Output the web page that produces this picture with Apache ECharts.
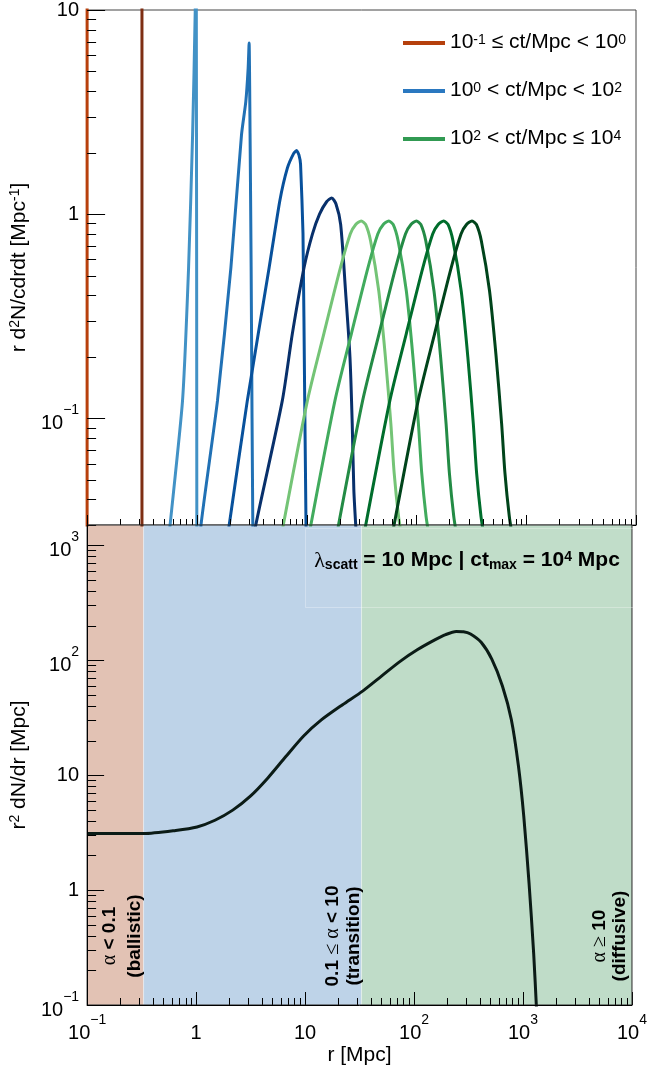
<!DOCTYPE html>
<html>
<head>
<meta charset="utf-8">
<script src="https://cdn.jsdelivr.net/npm/echarts@6/dist/echarts.min.js"></script>
<style>
html, body { margin: 0; padding: 0; background: #fff; }
#main { width: 650px; height: 1078px; }
</style>
</head>
<body>
<div id="main"></div>
<script>
var FONT = 'Liberation Sans, Arial, Helvetica, sans-serif';
var SERIF = 'Liberation Serif, DejaVu Serif, serif';

// ---- top panel: r d2N/cdrdt, one curve per ct [Mpc] ----
var ctValues = [0.1, 0.316, 1, 3.16, 10, 31.6, 100, 316, 1000, 3162, 10000];
var ctColors = ['#b8400c', '#7e2e13', '#4292c6', '#2171b5', '#08519c', '#08306b',
                '#74c476', '#41ab5d', '#238b45', '#006d2c', '#00441b'];
var ctGroup = [0, 0, 1, 1, 1, 1, 2, 2, 2, 2, 2];
var ctSmooth = [0, 0, 0.2, 0.2, 0.15, 0.25, 0.25, 0.25, 0.25, 0.25, 0.25];

var curve0 = [[0.1, 0.01], [0.1, 200]];
var curve1 = [[0.316, 0.01], [0.316, 200]];
var curve2 = [[0.55, 0.025], [0.57, 0.03], [0.74, 0.122], [0.84, 0.546], [0.914, 2.45],
              [0.966, 10], [0.985, 40], [1.0, 0.01]];
var curve3 = [[1.05, 0.02], [1.09, 0.03], [1.54, 0.122], [2.04, 0.546], [2.55, 2.45],
              [2.79, 3.56], [2.93, 5.18], [2.99, 6.9], [3.05, 2.5], [3.12, 0.55],
              [3.18, 0.1], [3.25, 0.02]];
var curve4 = [[1.9, 0.025], [1.97, 0.03], [2.88, 0.122], [4.55, 0.546], [5.69, 1.16],
              [6.67, 1.68], [7.6, 1.98], [8.1, 2.05], [8.5, 1.95], [8.8, 1.75],
              [9.26, 0.8], [9.6, 0.122], [9.9, 0.025]];
var curve5 = [[3.3, 0.025], [3.44, 0.03], [6.0, 0.122], [7.41, 0.26], [9.46, 0.546],
              [11.3, 0.80], [13.1, 1.0], [15.2, 1.15], [16.9, 1.2], [18.5, 1.12],
              [20.4, 0.89], [22.6, 0.42], [24.8, 0.199], [26.0, 0.094], [26.9, 0.0446],
              [28.2, 0.028]];
var curve6 = [[5.98, 0.028], [10.16, 0.122], [14.35, 0.26], [20.28, 0.546], [24.95, 0.80],
              [27.99, 0.89], [31.41, 0.925], [34.43, 0.89], [38.19, 0.74], [45.39, 0.42],
              [52.12, 0.20], [58.48, 0.094], [62.66, 0.054], [68.71, 0.033], [73.62, 0.026]];
var curve7 = [[10.66, 0.028], [18.1, 0.122], [25.57, 0.26], [36.14, 0.546], [44.46, 0.80],
              [49.88, 0.89], [55.97, 0.925], [61.35, 0.89], [68.06, 0.74], [80.9, 0.42],
              [92.9, 0.20], [104.2, 0.094], [111.7, 0.054], [122.4, 0.033], [131.2, 0.026]];
var curve8 = [[19.04, 0.028], [32.35, 0.122], [45.69, 0.26], [64.57, 0.546], [79.44, 0.80],
              [89.12, 0.89], [100.0, 0.925], [109.6, 0.89], [121.6, 0.74], [144.5, 0.42],
              [166, 0.20], [186.2, 0.094], [199.5, 0.054], [218.8, 0.033], [234.4, 0.026]];
var curve9 = [[33.7, 0.028], [57.26, 0.122], [80.88, 0.26], [114.3, 0.546], [140.6, 0.80],
              [157.8, 0.89], [177.0, 0.925], [194.0, 0.89], [215.2, 0.74], [255.8, 0.42],
              [293.8, 0.20], [329.6, 0.094], [353.2, 0.054], [387.3, 0.033], [414.9, 0.026]];
var curve10 = [[61.06, 0.028], [103.7, 0.122], [146.5, 0.26], [207.1, 0.546], [254.7, 0.80],
               [285.8, 0.89], [320.7, 0.925], [351.5, 0.89], [389.9, 0.74], [463.4, 0.42],
               [532.1, 0.20], [597.1, 0.094], [639.8, 0.054], [701.5, 0.033], [751.7, 0.026]];
var curves = [curve0, curve1, curve2, curve3, curve4, curve5, curve6, curve7, curve8, curve9, curve10];

var legendLabels = ['10^-1 <= ct/Mpc < 10^0', '10^0 < ct/Mpc < 10^2', '10^2 < ct/Mpc <= 10^4'];
var legendText = ['{n|10}{p|-1}{n| ≤ ct/Mpc < 10}{p|0}',
                  '{n|10}{p|0}{n| < ct/Mpc < 10}{p|2}',
                  '{n|10}{p|2}{n| < ct/Mpc ≤ 10}{p|4}'];
var legendColors = ['#b5400d', '#2a78c0', '#319a52'];

// ---- bottom panel: r^2 dN/dr for lambda_scatt = 10 Mpc, ct_max = 1e4 Mpc ----
var r2dNdr = [[0.1, 3.1], [0.2, 3.1], [0.33, 3.1], [0.65, 3.3], [1.02, 3.54], [1.49, 4.05],
              [2.17, 4.96], [3.15, 6.56], [4.58, 9.5], [6.66, 14.5], [9.7, 21.9], [14.1, 30.2],
              [22.1, 41.0], [34.0, 54.1], [50.6, 73], [73.5, 96.7], [107, 123], [155, 150],
              [195, 167], [244, 178], [284, 177], [330, 169], [413, 143], [517, 102],
              [647, 59.7], [781, 30.5], [908, 12.0], [1016, 4.4], [1136, 1.15], [1253, 0.28],
              [1340, 0.08]];
var regionEdges = [0.1, 0.33, 33, 10000];
var regionColors = ['#e2c2b4', '#bed3e8', '#bfdcc8'];

// axis tick labels by decade exponent
var xTickExp = [-1, 0, 1, 2, 3, 4];
var xTickText = ['{b|10}{s|−1}', '{b|1}', '{b|10}', '{b|10}{s|2}', '{b|10}{s|3}', '{b|10}{s|4}'];
var yTickExp = [-1, 0, 1, 2, 3];
var yTickText = ['{b|10}{s|−1}', '{b|1}', '{b|10}', '{b|10}{s|2}', '{b|10}{s|3}'];

function decadeLabel(exps, texts) {
    return function (v) {
        var l = Math.log10(v), e = Math.round(l);
        if (Math.abs(l - e) > 1e-6) return '';
        var i = exps.indexOf(e);
        return i < 0 ? '' : texts[i];
    };
}

// ROOT-like log ticks (1..9 x 10^e)
function logTicks(lo, hi) {
    var out = [];
    for (var e = -2; e <= 4; e++) {
        for (var m = 1; m <= 9; m++) {
            var v = m * Math.pow(10, e);
            if (v >= lo * 0.9999 && v <= hi * 1.0001) out.push([v, m === 1 ? 1 : 0]);
        }
    }
    return out;
}

function xTickRenderer(majLen, minLen) {
    return function (params, api) {
        var cs = params.coordSys;
        var x = Math.round(api.coord([api.value(0), api.value(1)])[0]) + 0.5;
        var yb = cs.y + cs.height;
        var len = api.value(2) ? majLen : minLen;
        return { type: 'line', shape: { x1: x, y1: yb, x2: x, y2: yb - len },
                 style: { stroke: '#000', lineWidth: 1 } };
    };
}
function yTickRenderer(majLen, minLen) {
    return function (params, api) {
        var cs = params.coordSys;
        var y = Math.round(api.coord([api.value(0), api.value(1)])[1]) + 0.5;
        var len = api.value(2) ? majLen : minLen;
        return { type: 'line', shape: { x1: cs.x, y1: y, x2: cs.x + len, y2: y },
                 style: { stroke: '#000', lineWidth: 1 } };
    };
}

var chart = echarts.init(document.getElementById('main'));

var series = [];
curves.forEach(function (c, i) {
    series.push({
        name: legendLabels[ctGroup[i]],
        type: 'line', xAxisIndex: 0, yAxisIndex: 0,
        data: c, showSymbol: false, symbol: 'none',
        smooth: ctSmooth[i] || false,
        lineStyle: { color: ctColors[i], width: 3 },
        itemStyle: { color: ctColors[i] },
        z: 3
    });
});

series.push({
    name: 'r2dNdr', type: 'line', xAxisIndex: 1, yAxisIndex: 1,
    data: r2dNdr, showSymbol: false, symbol: 'none', smooth: 0.25,
    lineStyle: { color: '#0b1b16', width: 3 }, z: 3,
    markArea: {
        silent: true,
        label: { show: false },
        data: regionColors.map(function (col, i) {
            return [{ xAxis: regionEdges[i], itemStyle: { color: col, borderColor: 'rgba(255,255,255,0.3)', borderWidth: 1 } },
                    { xAxis: regionEdges[i + 1] }];
        })
    }
});

series.push({ type: 'custom', xAxisIndex: 0, yAxisIndex: 0, z: 6, silent: true,
    renderItem: xTickRenderer(10, 6),
    data: logTicks(0.1, 10000).map(function (t) { return [t[0], 1, t[1]]; }) });
series.push({ type: 'custom', xAxisIndex: 0, yAxisIndex: 0, z: 6, silent: true,
    renderItem: yTickRenderer(18, 9),
    data: logTicks(0.03, 10).map(function (t) { return [1, t[0], t[1]]; }) });
series.push({ type: 'custom', xAxisIndex: 1, yAxisIndex: 1, z: 6, silent: true,
    renderItem: xTickRenderer(13, 7),
    data: logTicks(0.1, 10000).map(function (t) { return [t[0], 1, t[1]]; }) });
series.push({ type: 'custom', xAxisIndex: 1, yAxisIndex: 1, z: 6, silent: true,
    renderItem: yTickRenderer(17, 9),
    data: logTicks(0.1, 1500).map(function (t) { return [1, t[0], t[1]]; }) });

var tickRichY = {
    b: { fontSize: 20, fontFamily: FONT, color: '#000', lineHeight: 20, verticalAlign: 'bottom' },
    s: { fontSize: 14, fontFamily: FONT, color: '#000', lineHeight: 30, verticalAlign: 'top' }
};
var tickRichX = {
    b: { fontSize: 20, fontFamily: FONT, color: '#000', lineHeight: 30, verticalAlign: 'bottom' },
    s: { fontSize: 14, fontFamily: FONT, color: '#000', lineHeight: 18, verticalAlign: 'top' }
};
var nameRich = {
    t: { fontSize: 21, fontFamily: FONT, color: '#000', lineHeight: 22, verticalAlign: 'bottom' },
    ts: { fontSize: 14, fontFamily: FONT, color: '#000', lineHeight: 12, verticalAlign: 'top' }
};

var option = {
    animation: false,
    backgroundColor: '#fff',
    textStyle: { fontFamily: FONT },
    grid: [
        { left: 86, top: 8, width: 550, height: 517, show: true, borderColor: '#444', borderWidth: 1,
          backgroundColor: 'rgba(0,0,0,0)' },
        { left: 86, top: 525, width: 550, height: 480, show: true, borderColor: '#222', borderWidth: 1,
          backgroundColor: 'rgba(0,0,0,0)', z: 10 }
    ],
    xAxis: [
        { gridIndex: 0, type: 'log', min: 0.1, max: 10000,
          axisLine: { show: true, lineStyle: { color: '#000', width: 1 } },
          axisTick: { show: false }, axisLabel: { show: false }, splitLine: { show: false } },
        { gridIndex: 1, type: 'log', min: 0.1, max: 10000, z: 10,
          axisLine: { show: true, lineStyle: { color: '#000', width: 1 } },
          axisTick: { show: false }, splitLine: { show: false },
          axisLabel: { margin: 8, formatter: decadeLabel(xTickExp, xTickText), rich: tickRichX },
          name: '{t|r [Mpc]}', nameLocation: 'middle', nameGap: 39,
          nameTextStyle: { rich: nameRich } }
    ],
    yAxis: [
        { gridIndex: 0, type: 'log', min: 0.03, max: 10,
          axisLine: { show: true, lineStyle: { color: '#000', width: 1 } },
          axisTick: { show: false }, splitLine: { show: false },
          axisLabel: { margin: 8, formatter: decadeLabel(yTickExp, yTickText), rich: tickRichY },
          name: '{t|r d}{ts|2}{t|N/cdrdt [Mpc}{ts|-1}{t|]}', nameLocation: 'middle', nameRotate: 90,
          nameGap: 48, nameTextStyle: { rich: nameRich } },
        { gridIndex: 1, type: 'log', min: 0.1, max: 1500, z: 10,
          axisLine: { show: true, lineStyle: { color: '#000', width: 1 } },
          axisTick: { show: false }, splitLine: { show: false },
          axisLabel: { margin: 8, formatter: decadeLabel(yTickExp, yTickText), rich: tickRichY },
          name: '{t|r}{ts|2}{t| dN/dr [Mpc]}', nameLocation: 'middle', nameRotate: 90,
          nameGap: 48, nameTextStyle: { rich: nameRich } }
    ],
    legend: {
        orient: 'vertical', left: 398, top: 27,
        itemWidth: 42, itemHeight: 4, itemGap: 27, icon: 'rect',
        selectedMode: false,
        data: legendLabels.map(function (n, i) {
            return { name: n, itemStyle: { color: legendColors[i] }, lineStyle: { color: legendColors[i] } };
        }),
        formatter: function (name) { return legendText[legendLabels.indexOf(name)]; },
        textStyle: {
            rich: {
                n: { fontSize: 21, fontFamily: FONT, color: '#000', lineHeight: 20, verticalAlign: 'bottom' },
                p: { fontSize: 14, fontFamily: FONT, color: '#000', lineHeight: 12, verticalAlign: 'top' }
            }
        }
    },
    graphic: [
        { type: 'rect', z: 20, silent: true,
          shape: { x: 305.5, y: 528.5, width: 328, height: 79 },
          style: { fill: 'rgba(255,255,255,0.03)', stroke: 'rgba(255,255,255,0.3)', lineWidth: 1 } },
        { type: 'text', z: 21, silent: true, x: 467, y: 561,
          style: {
              text: '{l|λ}{ls|scatt}{m| = 10 Mpc | ct}{ms|max}{m| = 10}{mp|4}{m| Mpc}',
              align: 'center', verticalAlign: 'middle',
              rich: {
                  l: { fontSize: 22, fontFamily: SERIF, color: '#22364f', lineHeight: 22, verticalAlign: 'top' },
                  ls: { fontSize: 14, fontFamily: FONT, fontWeight: 'bold', color: '#22364f', lineHeight: 14, verticalAlign: 'bottom' },
                  m: { fontSize: 21, fontFamily: FONT, fontWeight: 'bold', color: '#163a22', lineHeight: 22, verticalAlign: 'top' },
                  ms: { fontSize: 14, fontFamily: FONT, fontWeight: 'bold', color: '#163a22', lineHeight: 14, verticalAlign: 'bottom' },
                  mp: { fontSize: 14, fontFamily: FONT, fontWeight: 'bold', color: '#163a22', lineHeight: 10, verticalAlign: 'top' }
              }
          } },
        regionLabel(122, 936, '{a|α}{b| < 0.1}\n{b|(ballistic)}', '#3b1c13', 25),
        regionLabel(343, 936, '{b|0.1 }{a|≤ α}{b| < 10}\n{b|(transition)}', '#1d3150', 21),
        regionLabel(610, 936, '{a|α ≥}{b| 10}\n{b|(diffusive)}', '#173a22', 20)
    ],
    series: series
};

function regionLabel(x, y, text, color, lh) {
    return { type: 'text', z: 21, silent: true, x: x, y: y, rotation: Math.PI / 2,
        style: {
            text: text, align: 'center', verticalAlign: 'middle',
            rich: {
                a: { fontSize: 20, fontFamily: SERIF, color: color, lineHeight: lh },
                b: { fontSize: 19, fontFamily: FONT, fontWeight: 'bold', color: color, lineHeight: lh }
            }
        } };
}

chart.setOption(option);
</script>
</body>
</html>
